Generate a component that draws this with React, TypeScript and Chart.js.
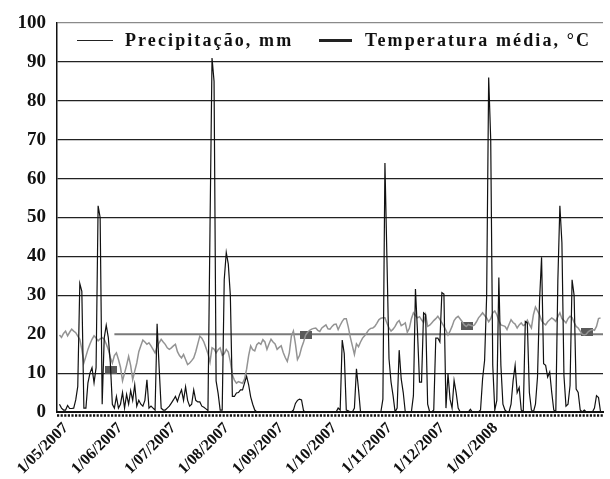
import React, { useEffect, useRef } from "react";
import { Chart, registerables } from "chart.js";

Chart.register(...registerables);

// x axis is the sample index of the daily series
const monthTickPositions = [3.16, 29.85, 56.07, 82.28, 108.98, 135.19, 162.38, 188.11, 214.32];
const monthTickLabels = [
  "1/05/2007", "1/06/2007", "1/07/2007", "1/08/2007", "1/09/2007",
  "1/10/2007", "1/11/2007", "1/12/2007", "1/01/2008",
];
const legendLabels = ["Precipitação, mm", "Temperatura média, °C"];

const precipitation = [
  2, 1, 0.5, 0.5,
  1.7, 0.9, 0.9, 1, 3.1, 6.6, 33, 31, 1, 1,
  7.5, 10, 11.4, 7.5, 11.4, 53, 50, 2, 19, 22.3,
  19.2, 12.7, 2, 1, 4, 1, 2, 5, 1, 4.5,
  2, 5.5, 3, 7, 1.5, 3, 2, 1.5, 3, 8.3,
  1, 1.5, 1, 0.5, 22.7, 11.4, 1, 0.5, 0.5, 1,
  1.5, 2.3, 3.1, 4, 2.7, 4.4, 5.7, 3, 6.5, 3,
  1.5, 2, 5.7, 3, 2.6, 2.6, 1.5, 1.2, 0.8, 0.4,
  47, 91, 85, 8, 4.8, 0.5, 0.5, 34, 41, 38,
  30, 4, 4, 4.9, 5, 5.7, 5.7, 7.5, 9.2, 7,
  3.9, 2, 0.5, 0, 0, 0, 0, 0, 0, 0,
  0, 0, 0, 0, 0, 0, 0, 0, 0, 0,
  0, 0.5, 2.2, 3, 3.3, 3.1, 0.3, 0, 0, 0,
  0, 0, 0, 0, 0, 0, 0, 0, 0, 0,
  0, 0, 0, 1, 0.5, 18.5, 15, 0.5, 0.3, 0,
  0, 1, 11.1, 5.9, 0, 0, 0, 0, 0, 0,
  0, 0, 0, 0, 0, 3.3, 64, 39, 13.7, 7.7,
  4.2, 0, 1, 15.9, 8.5, 5, 0, 0, 0, 0,
  4.2, 31.6, 20.7, 7.7, 7.7, 25.5, 25, 2, 0, 0,
  0.5, 19, 19, 18, 30.7, 30.3, 1, 9.8, 3.3, 1,
  8.1, 5, 1, 0, 0, 0, 0, 0, 0.7, 0,
  0, 0, 0, 0.5, 8.5, 13.3, 29.8, 86, 70, 12,
  0.5, 3, 34.6, 12, 2, 0.5, 0, 0, 2, 8,
  12, 5, 6.3, 0.5, 0, 23.3, 22.9, 5, 0.5, 0,
  2, 9, 28.5, 39.8, 12.4, 12, 9, 10.3, 5, 0.5,
  0, 33.7, 53, 43.5, 9.4, 1.5, 2, 6.8, 34, 30,
  5.9, 5, 0.5, 0, 0.5, 0, 0, 0, 0, 1,
  4.2, 3.7, 0,
];

const temperature = [
  19.8, 19.2, 20.2, 20.8,
  19.6, 20.5, 21.3, 20.8, 20.4, 19.5, 18.7, 16.1, 12.6, 14.3,
  16.1, 17.5, 18.7, 19.6, 19, 18.3, 18.8, 19.1, 18.7, 17.5,
  16.1, 14, 12.6, 14.5, 15.2, 13.5, 11.5, 8, 10, 12,
  14.3, 12, 8.3, 10.5, 12.6, 15.5, 17, 18.5, 18, 17.4,
  17.8, 17, 16.1, 15.2, 16.8, 17.8, 18.7, 18, 17.4, 16.5,
  16.1, 16.5, 17, 17.4, 15.5, 14.5, 13.9, 14.8, 13.5, 12.2,
  12.6, 13.2, 13.9, 15.5, 17.5, 19.5, 19, 18, 16.5, 15,
  12.8, 16.5, 16.2, 15.2, 16, 16.5, 14.6, 15, 16.1, 15.4,
  13, 9.5, 8.2, 7.4, 7.8, 7.6, 7.4, 8.5, 11, 14.5,
  17, 16, 15.7, 17.3, 17.8, 17.4, 18.6, 18, 16.1, 17.5,
  18.7, 18, 17.5, 16.1, 16.6, 17, 15.3, 14, 13, 15.2,
  19.5, 20.8, 17.5, 13.5, 14.5, 16.5, 18, 19.8, 20.5, 21,
  21.3, 21.5, 21.6, 21, 20.7, 21.6, 22, 22.4, 21.4, 21.3,
  22, 22.5, 22.6, 21.2, 22.3, 23.3, 24, 24, 21.8, 19.2,
  17, 14.8, 17.5, 16.8, 18, 19, 19.6, 20.3, 21.1, 21.5,
  21.6, 22, 22.8, 23.7, 24.1, 24.2, 24.2, 22.8, 21.6, 20.8,
  21.3, 22, 23, 23.5, 22.2, 22.5, 22.9, 20.5, 21.5, 24,
  25.5, 24.8, 24.2, 24.5, 23.7, 23, 25, 22, 22.3, 22.9,
  23.5, 24, 24.6, 23.8, 22.9, 22, 21, 19.8, 20.8, 22,
  23.5, 24.2, 24.6, 23.9, 23.2, 22.4, 22, 22.5, 22.3, 22.1,
  22.4, 23.2, 24.2, 24.8, 25.5, 24.8, 24.2, 23.2, 24, 25.5,
  26, 25, 23.5, 22.4, 22.2, 22, 21.2, 22.5, 23.7, 23,
  22.6, 21.6, 22.4, 22.9, 22.2, 22.5, 23.6, 22.5, 21.6, 25,
  27, 26, 25, 23.5, 22.8, 22.4, 23.2, 23.7, 24.2, 23.8,
  23.3, 24.5, 25.5, 24, 23.5, 22.9, 24, 24.6, 24.3, 23,
  22, 21.6, 20.8, 20, 19.8, 20, 20.7, 21, 21.2, 21,
  22, 24, 24.2,
];

// grey square markers and grey reference line at 20
const markerPositions = [25.1, 121.2, 200.5, 259.5];
const markerValues = [10.8, 19.7, 22.1, 20.6];
const refLinePositions = [27, 269];
const refLineValues = [20, 20];

const yTicks = [0, 10, 20, 30, 40, 50, 60, 70, 80, 90, 100];

const SERIF = '"Liberation Serif", "Times New Roman", serif';

export default function App() {
  const ref = useRef<HTMLCanvasElement>(null);

  useEffect(() => {
    const canvas = ref.current;
    if (!canvas) return;

    const marker = document.createElement("canvas");
    marker.width = 12;
    marker.height = 8;
    const mctx = marker.getContext("2d")!;
    mctx.fillStyle = "#5a5a5a";
    mctx.fillRect(0, 0, 12, 8);

    const legendPlugin = {
      id: "insideLegend",
      afterDatasetsDraw(chart: any) {
        const { ctx } = chart;
        ctx.save();
        ctx.font = `bold 18px ${SERIF}`;
        (ctx as any).letterSpacing = "2.1px";
        ctx.fillStyle = "#111";
        ctx.strokeStyle = "#222";
        ctx.textBaseline = "alphabetic";
        ctx.lineWidth = 1;
        ctx.beginPath();
        ctx.moveTo(77, 40.5);
        ctx.lineTo(113, 40.5);
        ctx.stroke();
        ctx.fillText(legendLabels[0], 125, 46);
        ctx.lineWidth = 3;
        ctx.beginPath();
        ctx.moveTo(319, 40.5);
        ctx.lineTo(352, 40.5);
        ctx.stroke();
        ctx.fillText(legendLabels[1], 365, 46);
        ctx.restore();
      },
      afterDraw(chart: any) {
        const { ctx, chartArea } = chart;
        ctx.save();
        ctx.strokeStyle = "#111";
        ctx.lineWidth = 2.5;
        ctx.setLineDash([2.2, 1.4]);
        ctx.beginPath();
        ctx.moveTo(chartArea.left, chartArea.bottom + 3.5);
        ctx.lineTo(chartArea.right, chartArea.bottom + 3.5);
        ctx.stroke();
        ctx.restore();
      },
    };

    const chart = new Chart(canvas, {
      type: "line",
      data: {
        datasets: [
          {
            label: legendLabels[0],
            data: precipitation.map((v, i) => ({ x: i, y: v })),
            borderColor: "#111",
            borderWidth: 1.2,
            pointRadius: 0,
            tension: 0,
            order: 1,
          },
          {
            label: legendLabels[1],
            data: temperature.map((v, i) => ({ x: i, y: v })),
            borderColor: "#939393",
            borderWidth: 1.5,
            pointRadius: 0,
            tension: 0,
            order: 2,
          },
          {
            label: "ref",
            data: refLinePositions.map((d, i) => ({ x: d, y: refLineValues[i] })),
            borderColor: "#7a7a7a",
            borderWidth: 2,
            pointRadius: 0,
            order: 4,
          },
          {
            type: "scatter" as any,
            label: "markers",
            data: markerPositions.map((d, i) => ({ x: d, y: markerValues[i] })),
            pointStyle: marker as any,
            pointRadius: 6,
            showLine: false,
            order: 3,
          },
        ],
      },
      options: {
        responsive: false,
        animation: false,
        devicePixelRatio: 1,
        events: [],
        layout: { padding: { top: 23, right: 0, left: 0, bottom: 0 } },
        plugins: {
          legend: { display: false },
          tooltip: { enabled: false },
        },
        scales: {
          x: {
            type: "linear",
            min: -1.21,
            max: 267.2,
            afterBuildTicks: (axis: any) => {
              axis.ticks = monthTickPositions.map((v) => ({ value: v }));
            },
            afterFit: (axis: any) => {
              axis.height = 67;
            },
            grid: { display: false, drawTicks: false },
            border: { display: true, color: "#111", width: 2 },
            ticks: {
              autoSkip: false,
              minRotation: 45,
              maxRotation: 45,
              padding: 7,
              color: "#111",
              font: { family: SERIF, size: 16, weight: "bold" },
              callback: (value: any) => {
                const idx = monthTickPositions.indexOf(Number(value));
                return idx >= 0 ? monthTickLabels[idx] : "";
              },
            },
          },
          y: {
            min: 0,
            max: 100,
            afterBuildTicks: (axis: any) => {
              axis.ticks = yTicks.map((v) => ({ value: v }));
            },
            afterFit: (axis: any) => {
              axis.width = 57;
            },
            grid: {
              drawTicks: false,
              color: (c: any) =>
                c.tick.value === 20
                  ? "rgba(0,0,0,0)"
                  : c.tick.value === 100
                  ? "#8a8a8a"
                  : "#222",
              lineWidth: (c: any) => (c.tick.value === 0 ? 2 : 1.2),
            },
            border: { display: true, color: "#111", width: 1.5 },
            ticks: {
              padding: 11,
              color: "#111",
              font: { family: SERIF, size: 19, weight: "bold" },
            },
          },
        },
      },
      plugins: [legendPlugin],
    });

    return () => chart.destroy();
  }, []);

  return (
    <div style={{ position: "fixed", left: 0, top: 0, width: 610, height: 479, background: "#fff" }}>
      <canvas ref={ref} width={610} height={479} style={{ display: "block" }} />
    </div>
  );
}
